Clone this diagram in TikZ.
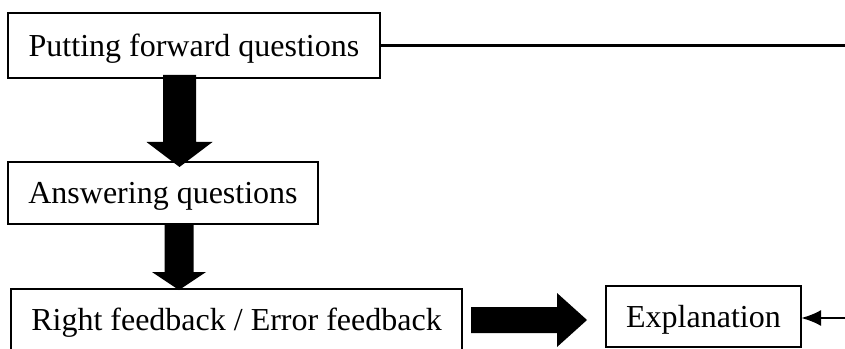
\documentclass[tikz,border=0pt]{standalone}
\usepackage{fontspec}
\setmainfont{Liberation Serif}
\usetikzlibrary{arrows.meta,calc}
\begin{document}
\begin{tikzpicture}[x=0.75pt,y=-0.75pt,
  box/.style={draw=black, line width=0.9pt, fill=white, inner sep=0pt, outer sep=0pt,
    font=\fontsize{24}{28}\selectfont, text height=21pt, text depth=5.2pt, align=center},
  blk/.style={fill=black}]
\clip (0,0) rectangle (845,349);
\useasboundingbox (0,0) rectangle (845,349);
\fill[white] (0,0) rectangle (845,349);
% boxes
\node[box, minimum width=279pt, minimum height=48.75pt] (b1) at (194,45.5) {Putting forward questions};
\node[box, minimum width=232.5pt, minimum height=46.5pt] (b2) at (163,193) {Answering questions};
\node[box, minimum width=338.25pt, minimum height=45.75pt] (b3) at (236.5,319.5) {Right feedback / Error feedback};
\node[box, minimum width=146.25pt, minimum height=45.75pt] (ex) at (703.5,316.5) {Explanation};
% coordinates for connectors
\coordinate (tr) at (845,45.5);
\coordinate (rr) at (845,318);
\coordinate (a1s) at (179.5,75);
\coordinate (a1t) at (179.5,167);
\coordinate (a2s) at (179,224);
\coordinate (a2t) at (179,290);
\coordinate (a3s) at (471,320);
\coordinate (a3t) at (587,320);
% thin connectors
\draw[line width=2.3pt] (b1.east) -- (tr);
\draw[line width=2pt, -{Latex[length=15pt,width=12pt]}] (rr) -- (rr -| ex.east);
% block arrows
\fill[blk] (a1s) ++(-16.5,0) -- ++(33,0) -- ++(0,67) -- ++(16.5,0) -- (a1t) -- ++(-33,-25) -- ++(16.5,0) -- cycle;
\fill[blk] (a2s) ++(-14.5,0) -- ++(29,0) -- ++(0,48) -- ++(12.5,0) -- (a2t) -- ++(-27,-18) -- ++(12.5,0) -- cycle;
\fill[blk] (a3s) ++(0,-13) -- ++(86,0) -- ++(0,-14) -- (a3t) -- ++(-30,27) -- ++(0,-14) -- ++(-86,0) -- cycle;
\end{tikzpicture}
\end{document}
